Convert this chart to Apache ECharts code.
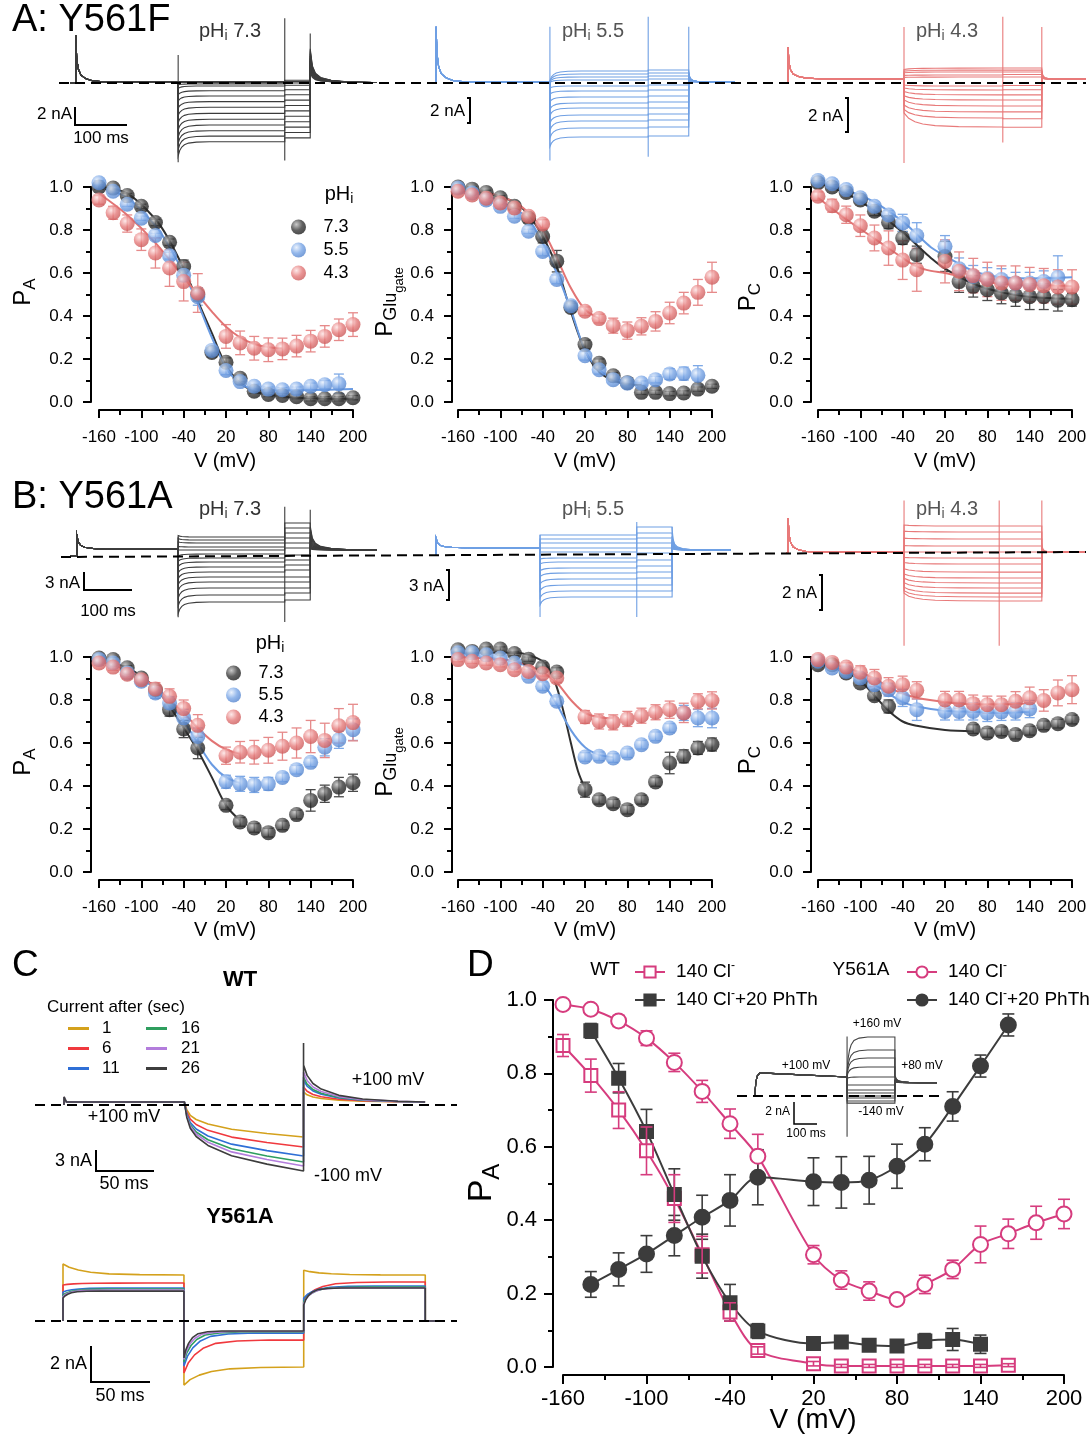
<!DOCTYPE html>
<html>
<head>
<meta charset="utf-8">
<script src="https://cdn.jsdelivr.net/npm/echarts@6/dist/echarts.min.js"></script>
<style>
html,body{margin:0;padding:0;background:#fff;}
#chart{width:1092px;height:1439px;}
</style>
</head>
<body>
<div id="chart"></div>
<script>
const FONT = '"Liberation Sans", Arial, Helvetica, sans-serif';

// ================= DATA =================
const V = [-160,-140,-120,-100,-80,-60,-40,-20,0,20,40,60,80,100,120,140,160,180,200];
const xTickLabels = ['-160','-100','-40','20','80','140','200'];
const yTickLabels = ['0.0','0.2','0.4','0.6','0.8','1.0'];
const phNames = ['7.3','5.5','4.3'];

// A1  P_A  Y561F
const a1K = [1.0,0.995,0.96,0.91,0.835,0.743,0.63,0.50,0.23,0.185,0.11,0.05,0.035,0.03,0.025,0.015,0.015,0.015,0.02];
const a1KErr = [0.01,0.01,0.01,0.01,0.015,0.015,0.03,0.03,0.02,0.02,0.015,0.01,0.01,0.01,0.01,0.01,0.01,0.01,0.01];
const a1B = [1.02,0.98,0.92,0.855,0.775,0.68,0.59,0.49,0.24,0.147,0.095,0.073,0.06,0.057,0.06,0.073,0.08,0.085];
const a1BErr = [0.01,0.01,0.01,0.01,0.01,0.015,0.03,0.04,0.01,0.02,0.015,0.01,0.01,0.01,0.01,0.015,0.02,0.045];
const a1R = [0.94,0.88,0.83,0.755,0.693,0.623,0.56,0.507,null,0.305,0.275,0.25,0.243,0.247,0.26,0.283,0.305,0.336,0.36];
const a1RErr = [0.02,0.03,0.04,0.05,0.07,0.085,0.09,0.09,0,0.055,0.055,0.055,0.055,0.05,0.05,0.05,0.05,0.05,0.055];
const a1FitV = [-160,-120,-80,-60,-40,-20,0,20,40,60,80,120,200];
const a1FitK = [1.0,0.97,0.85,0.75,0.62,0.47,0.32,0.17,0.09,0.05,0.035,0.02,0.015];
const a1FitB = [1.0,0.95,0.82,0.72,0.60,0.46,0.30,0.16,0.085,0.06,0.055,0.055,0.06];
const a1FitRV = [-160,-120,-80,-40,-20,0,20,40,60,80,100];
const a1FitR = [0.97,0.87,0.74,0.58,0.50,0.42,0.35,0.30,0.27,0.255,0.25];

// A2  P_Glugate  Y561F
const a2K = [1.0,0.99,0.975,0.95,0.91,0.855,0.77,0.655,0.44,0.267,0.18,0.122,0.09,0.045,0.045,0.039,0.042,0.06,0.073];
const a2KErr = [0.01,0.01,0.01,0.01,0.015,0.02,0.03,0.05,0.02,0.02,0.02,0.015,0.01,0.01,0.01,0.01,0.01,0.01,0.01];
const a2B = [0.995,0.972,0.94,0.91,0.864,0.794,0.70,0.57,0.448,0.215,0.15,0.104,0.088,0.088,0.104,0.13,0.132,0.124];
const a2BErr = [0.01,0.01,0.01,0.01,0.01,0.01,0.02,0.02,0.02,0.02,0.02,0.01,0.01,0.01,0.015,0.025,0.03,0.045];
const a2R = [0.98,0.963,0.948,0.926,0.902,0.864,0.828,null,null,0.422,0.388,0.355,0.332,0.352,0.375,0.414,0.46,0.51,0.58];
const a2RErr = [0.01,0.01,0.01,0.01,0.01,0.01,0.02,0,0,0.02,0.02,0.035,0.04,0.04,0.045,0.05,0.05,0.06,0.07];
const a2FitV = [-160,-120,-80,-60,-40,-20,0,20,40,60,80,100];
const a2FitK = [0.98,0.97,0.93,0.87,0.77,0.63,0.42,0.24,0.14,0.10,0.085,0.08];
const a2FitB = [0.975,0.96,0.90,0.85,0.74,0.60,0.43,0.24,0.15,0.11,0.095,0.09];
const a2FitRV = [-160,-120,-80,-60,-40,-20,0,20,40];
const a2FitR = [0.985,0.975,0.93,0.88,0.80,0.67,0.53,0.43,0.39];

// A3  P_C  Y561F
const a3K = [1.02,1.0,0.975,0.94,0.887,0.836,0.763,0.685,null,0.677,0.56,0.538,0.522,0.507,0.495,0.49,0.49,0.473,0.476];
const a3KErr = [0.01,0.01,0.01,0.01,0.02,0.03,0.03,0.04,0,0.07,0.05,0.05,0.05,0.05,0.05,0.06,0.06,0.05,0.03];
const a3B = [1.03,1.015,0.988,0.95,0.91,0.87,0.833,0.774,null,0.724,0.62,0.585,0.575,0.57,0.553,0.553,0.56,0.58];
const a3BErr = [0.01,0.01,0.01,0.01,0.01,0.02,0.04,0.06,0,0.05,0.05,0.05,0.05,0.05,0.05,0.05,0.05,0.1];
const a3R = [0.957,0.913,0.871,0.82,0.763,0.716,0.66,0.615,null,0.654,0.608,0.588,0.57,0.553,0.553,0.546,0.541,0.535,0.535];
const a3RErr = [0.02,0.03,0.04,0.05,0.06,0.08,0.09,0.1,0,0.1,0.09,0.08,0.08,0.08,0.08,0.08,0.08,0.08,0.08];
const a3FitV = [-160,-120,-80,-40,-20,0,20,60,100,140,200];
const a3FitK = [1.02,0.97,0.89,0.79,0.73,0.67,0.62,0.55,0.51,0.49,0.48];
const a3FitB = [1.02,0.985,0.93,0.84,0.78,0.72,0.68,0.61,0.58,0.575,0.58];
const a3FitR = [0.95,0.85,0.76,0.67,0.63,0.61,0.60,0.57,0.55,0.545,0.54];

// B1  P_A  Y561A
const b1K = [0.995,0.988,0.95,0.902,0.848,0.755,0.665,0.577,null,0.31,0.233,0.205,0.183,0.217,0.267,0.333,0.364,0.395,0.415];
const b1KErr = [0.01,0.01,0.01,0.01,0.02,0.03,0.04,0.05,0,0.02,0.02,0.02,0.02,0.02,0.02,0.05,0.04,0.045,0.04];
const b1B = [0.988,0.972,0.926,0.887,0.833,0.786,0.717,0.63,null,0.42,0.41,0.405,0.41,0.44,0.476,0.51,0.58,0.615,0.662];
const b1BErr = [0.01,0.01,0.015,0.02,0.025,0.03,0.04,0.04,0,0.03,0.035,0.035,0.03,0.02,0.02,0.02,0.04,0.04,0.05];
const b1R = [0.972,0.953,0.92,0.894,0.851,0.817,0.76,0.682,null,0.541,0.557,0.557,0.566,0.585,0.6,0.63,0.612,0.68,0.695];
const b1RErr = [0.01,0.015,0.02,0.025,0.03,0.035,0.04,0.05,0,0.04,0.05,0.055,0.06,0.065,0.07,0.075,0.08,0.08,0.085];
const b1FitV = [-160,-120,-100,-80,-60,-40,-20,0,20,40];
const b1FitK = [0.99,0.95,0.91,0.855,0.77,0.67,0.565,0.44,0.31,0.24];
const b1FitB = [0.99,0.94,0.90,0.85,0.78,0.70,0.60,0.50,0.44,0.415];
const b1FitR = [0.98,0.94,0.905,0.86,0.80,0.74,0.67,0.61,0.57,0.55];

// B2  P_Glugate  Y561A
const b2K = [1.034,1.026,1.037,1.037,1.016,0.99,0.953,0.93,null,0.383,0.336,0.318,0.29,0.336,0.419,0.507,0.538,0.577,0.593];
const b2KErr = [0.01,0.01,0.01,0.01,0.01,0.01,0.02,0.02,0,0.035,0.02,0.02,0.02,0.02,0.02,0.05,0.03,0.03,0.03];
const b2B = [1.02,1.02,1.01,0.995,0.972,0.91,0.864,0.794,null,0.535,0.538,0.53,0.553,0.592,0.631,0.67,0.74,0.716,0.716];
const b2BErr = [0.01,0.01,0.01,0.01,0.01,0.015,0.02,0.02,0,0.02,0.02,0.02,0.02,0.02,0.02,0.02,0.035,0.04,0.045];
const b2R = [0.988,0.98,0.972,0.964,0.941,0.933,0.922,0.902,null,0.721,0.70,0.696,0.712,0.727,0.743,0.755,0.74,0.794,0.798];
const b2RErr = [0.01,0.01,0.01,0.01,0.01,0.01,0.01,0.02,0,0.03,0.035,0.035,0.035,0.035,0.035,0.04,0.045,0.035,0.04];
const b2FitKV = [-160,-100,-80,-60,-40,-30,-20,-10,0,10,20];
const b2FitK = [1.02,1.02,1.02,1.01,0.98,0.94,0.86,0.74,0.60,0.47,0.39];
const b2FitV = [-160,-100,-80,-60,-40,-20,0,20,40,60];
const b2FitB = [1.0,0.99,0.98,0.95,0.88,0.78,0.66,0.58,0.545,0.535];
const b2FitR = [1.0,0.99,0.98,0.96,0.93,0.88,0.80,0.74,0.72,0.715];

// B3  P_C  Y561A
const b3K = [0.964,0.964,0.926,0.879,0.82,0.77,null,null,null,null,null,0.665,0.647,0.654,0.639,0.657,0.682,0.69,0.709];
const b3KErr = [0.01,0.01,0.01,0.01,0.02,0.03,0,0,0,0,0,0.02,0.02,0.02,0.02,0.02,0.02,0.02,0.02];
const b3B = [0.98,0.949,0.933,0.902,0.871,0.848,0.81,0.755,null,0.747,0.747,0.747,0.74,0.745,0.747,0.758];
const b3BErr = [0.01,0.01,0.01,0.02,0.03,0.03,0.04,0.05,0,0.04,0.04,0.04,0.04,0.04,0.04,0.04];
const b3R = [0.988,0.975,0.953,0.929,0.902,0.864,0.871,0.845,null,0.8,0.8,0.783,0.778,0.778,0.794,0.81,0.798,0.833,0.848];
const b3RErr = [0.01,0.01,0.02,0.03,0.04,0.04,0.04,0.04,0,0.04,0.04,0.04,0.04,0.04,0.045,0.05,0.05,0.06,0.065];
const b3FitKV = [-160,-120,-100,-80,-60,-40,-20,20,60];
const b3FitK = [0.97,0.93,0.89,0.82,0.75,0.70,0.68,0.66,0.655];
const b3FitV = [-160,-120,-80,-60,-40,-20,20,60,100,140];
const b3FitB = [0.97,0.93,0.87,0.83,0.79,0.77,0.75,0.745,0.74,0.745];
const b3FitR = [0.975,0.95,0.90,0.86,0.83,0.81,0.79,0.78,0.78,0.785];

// D  P_A  WT / Y561A, 140 Cl- and 140 Cl- + 20 PhTh
const dWtCl = [0.876,0.794,0.700,0.589,0.459,0.306,0.150,0.045,null,0.009,0.003,0.003,0.003,0.003,0.003,0.003,0.005];
const dWtClErr = [0.03,0.045,0.05,0.065,0.065,0.05,0.025,0.01,0,0.006,0.004,0.004,0.004,0.004,0.004,0.004,0.004];
const dWtPh = [null,0.916,0.787,0.642,0.470,0.302,0.175,0.098,null,0.064,0.068,0.059,0.057,0.071,0.075,0.062];
const dWtPhErr = [0,0.02,0.04,0.06,0.07,0.06,0.05,0.02,0,0.01,0.01,0.01,0.01,0.02,0.03,0.025];
const dYCl = [0.988,0.975,0.943,0.896,0.830,0.751,0.663,0.574,null,0.306,0.237,0.207,0.184,0.225,0.266,0.334,0.363,0.393,0.417];
const dYClErr = [0.005,0.01,0.015,0.02,0.025,0.03,0.04,0.06,0,0.025,0.025,0.025,0.01,0.025,0.025,0.05,0.04,0.045,0.04];
const dYPh = [null,0.225,0.266,0.308,0.358,0.408,0.454,0.517,null,0.505,0.503,0.509,0.547,0.607,0.710,0.820,0.932];
const dYPhErr = [0,0.035,0.045,0.05,0.055,0.06,0.07,0.075,0,0.065,0.07,0.065,0.06,0.045,0.04,0.03,0.03];

// ---- current trace families (time in ms, current in nA) ----
const relaxMs = [0, 3, 7, 12, 20, 35, 60];
const relaxFrac = [1, 0.62, 0.38, 0.22, 0.1, 0.03, 0];
const spikeMs = [0, 2, 5, 10, 20, 35, 60];
const spikeFrac = [1, 0.5, 0.28, 0.15, 0.07, 0.02, 0];
// times: start, pre-spike, test on, test off, tail off, end ; levels: pre, pre-spike peak, post level
const fA73Times = [0, 11, 208, 413, 462, 590];
const fA73Levels = [0.1, 5.3, 0.05];
const fA73Test = [0.15,0.05,-0.1,-0.33,-0.86,-1.44,-2.07,-2.7,-3.37,-4.03,-4.67,-5.3,-5.9,-6.52];
const fA73Onset = [0.15,0.05,-0.2,-0.6,-1.3,-2.0,-2.8,-3.6,-4.4,-5.2,-6.0,-6.7,-7.4,-8.1];
const fA73Tail = [0.3,0.15,0,-0.25,-0.75,-1.3,-1.9,-2.5,-3.1,-3.7,-4.3,-4.9,-5.5,-6.1];
const fA73Post = [1.2,1.4,1.6,1.8,2.0,2.2,2.4,2.6,2.8,3.0,3.2,3.4,3.6,3.8];
const fA73Spikes = [-8.8,3.1,-8.6,7.2,5.5];

const fA55Times = [0, 2, 221, 410, 488, 577];
const fA55Levels = [0.08, 4.5, 0.08];
const fA55Test = [0.96,0.72,0.48,0.24,-0.24,-0.64,-1.12,-1.6,-2.0,-2.56,-3.04,-3.6,-4.32];
const fA55Onset = [0.2,0.15,0.1,0.05,-0.4,-0.9,-1.5,-2.1,-2.6,-3.2,-3.8,-4.4,-5.1];
const fA55Tail = [1.04,0.8,0.56,0.32,-0.16,-0.56,-1.04,-1.52,-2.0,-2.48,-2.96,-3.52,-4.24];
const fA55Post = [1.0,0.9,0.8,0.7,0.6,0.5,0.5,0.4,0.4,0.3,0.3,0.3,0.3];
const fA55Spikes = [-6.2,4.5,-5.9,5.3,4.5];

const fA43Times = [0, 2, 225, 415, 490, 575];
const fA43Levels = [0.25, 2.1, 0.22];
const fA43Test = [0.88,0.76,0.65,0.47,0.35,-0.18,-0.41,-0.7,-1.0,-1.35,-1.7,-2.06,-2.59];
const fA43Onset = [0.8,0.7,0.6,0.45,0.33,-0.12,-0.3,-0.5,-0.75,-1.0,-1.3,-1.55,-1.76];
const fA43Tail = [0.88,0.76,0.65,0.5,0.35,-0.15,-0.4,-0.7,-1.0,-1.35,-1.7,-2.1,-2.6];
const fA43Post = [0.8,0.8,0.7,0.7,0.6,0.6,0.5,0.5,0.5,0.4,0.4,0.4,0.4];
const fA43Spikes = [-4.7,3.3,-3.5,3.9,3.3];

const fB73Times = [0, 13, 208, 413, 462, 590];
const fB73Levels = [1.1, 3.5, 1.0];
const fB73Test = [3.17,2.67,2.17,1.5,1.0,0.33,-0.33,-1.0,-1.83,-2.67,-3.5,-4.33,-5.33,-6.5,-7.67];
const fB73Onset = [3.4,2.9,2.35,1.6,1.0,0.0,-0.9,-1.8,-2.8,-3.8,-4.8,-5.8,-7.0,-8.3,-9.6];
const fB73Tail = [5.5,4.67,3.83,3.0,2.17,1.33,0.17,-0.67,-1.5,-2.33,-3.5,-4.33,-5.33,-6.17,-7.33];
const fB73Post = [5.0,4.6,4.2,3.8,3.4,3.0,2.7,2.4,2.1,1.9,1.7,1.5,1.4,1.3,1.2];
const fB73Spikes = [-10.2,3.2,-11,8.2,7.7];

const fB55Times = [0, 2, 202, 388, 456, 569];
const fB55Levels = [0.7, 1.7, 0.5];
const fB55Test = [2.0,1.6,1.2,0.7,0.3,-0.3,-0.7,-1.3,-1.8,-2.4,-3.0,-3.6,-4.2];
const fB55Onset = [2.0,1.6,1.2,0.7,0.3,-0.4,-0.9,-1.6,-2.2,-2.9,-3.6,-4.3,-5.0];
const fB55Tail = [2.8,2.2,1.7,1.2,0.7,0.2,-0.5,-1.1,-1.7,-2.3,-3.0,-3.6,-4.2];
const fB55Post = [2.6,2.2,1.9,1.6,1.4,1.2,1.1,1.0,0.9,0.85,0.8,0.75,0.7];
const fB55Spikes = [-6.2,2.0,-6.2,3.3,2.8];

const fB43Times = [0, 4, 227, 410, 492, 577];
const fB43Levels = [0.05, 2.0, 0.05];
const fB43Test = [1.54,1.2,0.8,0.4,0.06,-0.29,-0.63,-1.09,-1.43,-1.71,-2.0,-2.29,-2.51,-2.74];
const fB43Onset = [1.6,1.25,0.85,0.42,0.06,-0.25,-0.55,-0.9,-1.2,-1.45,-1.7,-1.95,-2.15,-2.3];
const fB43Tail = [1.54,1.2,0.8,0.4,0.06,-0.29,-0.63,-1.09,-1.43,-1.71,-2.0,-2.29,-2.51,-2.74];
const fB43Post = [0.6,0.5,0.4,0.3,0.2,0.2,0.1,0.1,0.1,0.1,0.1,0.1,0.1,0.1];
const fB43Spikes = [-5.3,3.0,-5.3,3.0,3.0];

// ---- panel C ----
const cNames = ['1','6','11','16','21','26'];
const cNegMs = [0, 2, 5, 10, 20, 40, 70, 101];
const cNegFrac = [0, 0.22, 0.38, 0.5, 0.63, 0.78, 0.9, 1.0];
const cPosMs = [0, 3, 8, 15, 30, 50, 80, 103];
const cPosFrac = [1, 0.72, 0.5, 0.35, 0.18, 0.08, 0.02, 0];
const cRelMs = [0, 4, 10, 18, 30, 50, 80];
const cRelFrac = [1, 0.7, 0.45, 0.25, 0.1, 0.03, 0];
const cWtTimes = [0, 102, 203, 306];
const cWtLevels = [0.43, 1.14, 8.86];     // holding level, start spike, jump spike
const cWtNeg = [-4.57,-6.0,-7.29,-8.14,-8.71,-9.43];
const cWtPos = [1.86,2.57,3.57,4.0,4.71,5.71];
const cYTimes = [0, 102.5, 204, 307, 318];
const cYRelScale = [1.3, 0.9, 0.75, 0.6, 0.5, 0.4];
const cYp1a = [3.26,2.06,1.66,1.49,1.4,1.31];
const cYp1b = [2.63,2.17,1.89,1.83,1.77,1.71];
const cYp2a = [-3.66,-2.97,-2.57,-2.34,-2.2,-2.11];
const cYp2b = [-2.63,-1.09,-0.69,-0.63,-0.6,-0.57];
const cYp3a = [2.9,1.2,1.31,1.1,1.0,0.91];
const cYp3b = [2.63,2.23,2.0,1.94,1.9,1.89];

// ---- D inset ----
const dInsPreT = [0, 8, 12, 18, 30, 409];
const dInsPreI = [0, 0, 1.2, 1.8, 2.1, 1.73];
const dInsTimes = [409, 617, 800];
const dInsTest = [5.36,4.18,3.45,2.64,1.73,1.0,0.55,0.27,0.0,-0.18,-0.45,-0.65];
const dInsOnset = [2.2,2.0,1.9,1.8,1.6,1.0,0.55,0.27,0.0,-0.18,-0.45,-0.65];
const dInsTail = [1.9,1.8,1.75,1.7,1.6,1.5,1.45,1.4,1.4,1.35,1.35,1.3];
const dInsLevels = [1.2, -3.7, 5.4];

// ================= BUILD =================
const grids = [], xAxes = [], yAxes = [], series = [], legends = [], graphics = [];

function axisCommon(L) {
  return {
    axisLine:{show:true, onZero:false, lineStyle:{color:'#000', width:L.lw}},
    axisTick:{show:true, inside:false, length:L.tick, lineStyle:{color:'#000', width:L.lw}},
    minorTick:{show:true, splitNumber:2, length:L.minor, lineStyle:{color:'#000', width:L.lw}},
    splitLine:{show:false}, minorSplitLine:{show:false}
  };
}
function addPlot(L) {
  const gi = grids.length;
  grids.push({left:L.left, top:L.top, width:L.w, height:L.h});
  const xd = xAxes.length;
  xAxes.push({gridIndex:gi, type:'value', min:-160, max:200, show:false});
  xAxes.push(Object.assign({gridIndex:gi, type:'value', position:'bottom', min:0, max:360, interval:60, offset:L.xOff,
    axisLabel:{formatter:(v)=>xTickLabels[Math.round(v/60)], fontSize:L.fs, color:'#000', fontFamily:FONT, margin:L.xMargin}}, axisCommon(L)));
  const yi = yAxes.length;
  yAxes.push(Object.assign({gridIndex:gi, type:'value', position:'left', min:0, max:1, interval:0.2, offset:L.yOff,
    axisLabel:{formatter:(v)=>yTickLabels[Math.round(v/0.2)], fontSize:L.fs, color:'#000', fontFamily:FONT, margin:L.yMargin}}, axisCommon(L)));
  return {x:xd, y:yi};
}
function addTraceGrid(g) {
  const gi = grids.length;
  grids.push({left:g.x0, top:g.top, width:g.w, height:g.bottom - g.top});
  xAxes.push({gridIndex:gi, type:'value', min:0, max:g.w / g.pxMs, show:false});
  yAxes.push({gridIndex:gi, type:'value', min:-(g.bottom - g.zeroY) / g.pxNA, max:(g.zeroY - g.top) / g.pxNA, show:false});
  return {x:xAxes.length - 1, y:yAxes.length - 1};
}
function radial(c) {
  return {type:'radial', x:0.36, y:0.33, r:0.72, colorStops:[{offset:0, color:c[0]}, {offset:0.55, color:c[1]}, {offset:1, color:c[2]}]};
}
const COL = {
  k:{line:'#303030', err:'#4a4a4a', grad:['#bdbdbd','#3a3a3a','#1c1c1c']},
  b:{line:'#6a9be2', err:'#7ea9e6', grad:['#e6effc','#78a5e6','#5282cb']},
  r:{line:'#e27474', err:'#e68a8a', grad:['#fde3e3','#e57b7b','#c95858']}
};
function errSeries(ax, xs, vals, errs, color, z, cap, lw) {
  const data = [];
  xs.forEach((v, i) => { if (vals[i] != null && errs[i]) data.push([v, vals[i], errs[i]]); });
  return {type:'custom', xAxisIndex:ax.x, yAxisIndex:ax.y, z:z, silent:true, clip:false, encode:{x:0, y:1}, data:data,
    renderItem:(p, api) => {
      const x = api.value(0), y = api.value(1), e = api.value(2);
      const a = api.coord([x, y + e]), b = api.coord([x, y - e]);
      const st = {stroke:color, lineWidth:lw};
      return {type:'group', children:[
        {type:'line', shape:{x1:a[0], y1:a[1], x2:b[0], y2:b[1]}, style:st},
        {type:'line', shape:{x1:a[0]-cap, y1:a[1], x2:a[0]+cap, y2:a[1]}, style:st},
        {type:'line', shape:{x1:b[0]-cap, y1:b[1], x2:b[0]+cap, y2:b[1]}, style:st}
      ]};
    }};
}
function pairs(xs, ys) {
  const out = [];
  xs.forEach((v, i) => { if (ys[i] != null) out.push([v, ys[i]]); });
  return out;
}

// ---- A/B plots ----
const plotCommon = {w:254, h:215, xOff:8, fs:17, tick:8, minor:5, lw:2, xMargin:19, yMargin:18};
const plotLayouts = [
  {left:99, top:187, yOff:8}, {left:458, top:187, yOff:6}, {left:818, top:187, yOff:7},
  {left:99, top:657, yOff:8}, {left:458, top:657, yOff:6}, {left:818, top:657, yOff:7}
];
const plotData = [
  [[a1K,a1KErr,a1FitV,a1FitK],[a1B,a1BErr,a1FitV,a1FitB],[a1R,a1RErr,a1FitRV,a1FitR]],
  [[a2K,a2KErr,a2FitV,a2FitK],[a2B,a2BErr,a2FitV,a2FitB],[a2R,a2RErr,a2FitRV,a2FitR]],
  [[a3K,a3KErr,a3FitV,a3FitK],[a3B,a3BErr,a3FitV,a3FitB],[a3R,a3RErr,a3FitV,a3FitR]],
  [[b1K,b1KErr,b1FitV,b1FitK],[b1B,b1BErr,b1FitV,b1FitB],[b1R,b1RErr,b1FitV,b1FitR]],
  [[b2K,b2KErr,b2FitKV,b2FitK],[b2B,b2BErr,b2FitV,b2FitB],[b2R,b2RErr,b2FitV,b2FitR]],
  [[b3K,b3KErr,b3FitKV,b3FitK],[b3B,b3BErr,b3FitV,b3FitB],[b3R,b3RErr,b3FitV,b3FitR]]
];
const colKeys = ['k','b','r'];
plotLayouts.forEach((L, pi) => {
  const ax = addPlot(Object.assign({}, plotCommon, L));
  plotData[pi].forEach((d, si) => {
    const c = COL[colKeys[si]];
    series.push(errSeries(ax, V, d[0], d[1], c.err, 2, 5, 1.3));
    series.push({type:'line', xAxisIndex:ax.x, yAxisIndex:ax.y, data:pairs(d[2], d[3]), smooth:0.35, symbol:'none',
      lineStyle:{color:c.line, width:2}, z:3, silent:true, clip:false});
  });
  plotData[pi].forEach((d, si) => {
    const c = COL[colKeys[si]];
    series.push({type:'scatter', name:phNames[si], xAxisIndex:ax.x, yAxisIndex:ax.y, data:pairs(V, d[0]), symbolSize:15,
      itemStyle:{color:radial(c.grad)}, z:4 + si * 0.1, silent:true, clip:false});
  });
});

// ---- D plot ----
const PINK = '#d63c7e', DARK = '#3c3c3c';
const axD = addPlot({left:563, top:1000, w:501, h:367, xOff:8, yOff:10, fs:22, tick:9, minor:5, lw:2, xMargin:13, yMargin:16});
const dSets = [
  {name:'wtcl', vals:dWtCl, errs:dWtClErr, color:PINK, symbol:'rect', open:true, errZ:6},
  {name:'wtph', vals:dWtPh, errs:dWtPhErr, color:DARK, symbol:'rect', open:false, errZ:2},
  {name:'ycl', vals:dYCl, errs:dYClErr, color:PINK, symbol:'circle', open:true, errZ:2},
  {name:'yph', vals:dYPh, errs:dYPhErr, color:DARK, symbol:'circle', open:false, errZ:2}
];
dSets.forEach(s => {
  series.push(errSeries(axD, V, s.vals, s.errs, s.color, s.errZ, 6, 1.6));
  series.push({type:'line', name:s.name, xAxisIndex:axD.x, yAxisIndex:axD.y, data:pairs(V, s.vals), smooth:0.3,
    symbol:s.symbol, symbolSize:s.symbol === 'rect' ? 13 : 15, showSymbol:true,
    lineStyle:{color:s.color, width:2}, itemStyle:{color:s.open ? '#fff' : s.color, borderColor:s.color, borderWidth:2},
    z:3, silent:true, clip:false});
});

// ---- trace families ----
function buildFamily(f) {
  const [t0, tS, tOn, tOff, tTail, tEnd] = f.times;
  const [pre, preSpike, post0] = f.levels;
  const lines = [];
  for (let i = 0; i < f.test.length; i++) {
    const c = [[t0, 0], [tS, 0]];
    spikeMs.forEach((d, k) => c.push([tS + d * f.preScale, pre + (preSpike - pre) * spikeFrac[k]]));
    c.push([tOn, pre]);
    relaxMs.forEach((d, k) => { const t = tOn + d * f.relax; if (t < tOff) c.push([t, f.test[i] + (f.onset[i] - f.test[i]) * relaxFrac[k]]); });
    c.push([tOff, f.test[i]]);
    c.push([tOff, f.tail[i]]);
    c.push([tTail, f.tail[i]]);
    spikeMs.forEach((d, k) => c.push([tTail + d * f.postScale, post0 + (f.post[i] - post0) * spikeFrac[k]]));
    c.push([tEnd, post0]);
    lines.push({coords:c});
  }
  const sp = f.spikes;
  lines.push({coords:[[tOn, sp[0]], [tOn, sp[1]]]});
  lines.push({coords:[[tOff, sp[2]], [tOff, sp[3]]]});
  lines.push({coords:[[tTail, post0], [tTail, sp[4]]]});
  return lines;
}
const FAMS = [
  {g:{x0:70, w:320, top:8, bottom:172, zeroY:83, pxNA:9, pxMs:0.52}, color:'#3c3c3c', relax:1, preScale:1, postScale:2,
   times:fA73Times, levels:fA73Levels, test:fA73Test, onset:fA73Onset, tail:fA73Tail, post:fA73Post, spikes:fA73Spikes},
  {g:{x0:435, w:310, top:8, bottom:172, zeroY:83, pxNA:12.5, pxMs:0.52}, color:'#6f9fe3', relax:1, preScale:1, postScale:0.8,
   times:fA55Times, levels:fA55Levels, test:fA55Test, onset:fA55Onset, tail:fA55Tail, post:fA55Post, spikes:fA55Spikes},
  {g:{x0:787, w:305, top:8, bottom:172, zeroY:83, pxNA:17, pxMs:0.52}, color:'#e87a7a', relax:3, preScale:1, postScale:0.6,
   times:fA43Times, levels:fA43Levels, test:fA43Test, onset:fA43Onset, tail:fA43Tail, post:fA43Post, spikes:fA43Spikes},
  {g:{x0:70, w:320, top:488, bottom:652, zeroY:556, pxNA:6, pxMs:0.52}, color:'#3c3c3c', relax:1, preScale:1.5, postScale:2,
   times:fB73Times, levels:fB73Levels, test:fB73Test, onset:fB73Onset, tail:fB73Tail, post:fB73Post, spikes:fB73Spikes},
  {g:{x0:435, w:310, top:488, bottom:652, zeroY:555, pxNA:10, pxMs:0.52}, color:'#6f9fe3', relax:1, preScale:1.5, postScale:1,
   times:fB55Times, levels:fB55Levels, test:fB55Test, onset:fB55Onset, tail:fB55Tail, post:fB55Post, spikes:fB55Spikes},
  {g:{x0:786, w:305, top:488, bottom:652, zeroY:553, pxNA:17.5, pxMs:0.52}, color:'#e87a7a', relax:3, preScale:1, postScale:0.5,
   times:fB43Times, levels:fB43Levels, test:fB43Test, onset:fB43Onset, tail:fB43Tail, post:fB43Post, spikes:fB43Spikes}
];
FAMS.forEach(f => {
  const ax = addTraceGrid(f.g);
  series.push({type:'lines', coordinateSystem:'cartesian2d', xAxisIndex:ax.x, yAxisIndex:ax.y, polyline:true,
    data:buildFamily(f), lineStyle:{color:f.color, width:1.1, opacity:1}, silent:true, z:2});
});

// ---- panel C traces ----
const cColors = ['#d4a11c','#f0393e','#2f6fd6','#2e9e5e','#b37ddc','#3d3d3d'];
const axCW = addTraceGrid({x0:64, w:380, top:1035, bottom:1185, zeroY:1105, pxNA:7, pxMs:1.18});
const axCY = addTraceGrid({x0:63, w:380, top:1250, bottom:1400, zeroY:1321, pxNA:17.5, pxMs:1.18});
cNames.forEach((nm, i) => {
  const [t0, t1, t2, t3] = cWtTimes;
  const [pre, sp0, jump] = cWtLevels;
  const c = [[t0, 0], [t0, sp0], [t0 + 2, pre], [t1, pre]];
  cNegMs.forEach((d, k) => c.push([t1 + d, pre + (cWtNeg[i] - pre) * cNegFrac[k]]));
  if (i === cNames.length - 1) c.push([t2, jump]);
  cPosMs.forEach((d, k) => c.push([t2 + d, pre + (cWtPos[i] - pre) * cPosFrac[k]]));
  c.push([t3, pre]);
  series.push({type:'line', name:nm, xAxisIndex:axCW.x, yAxisIndex:axCW.y, data:c, symbol:'none', showSymbol:false,
    lineStyle:{color:cColors[i], width:1.6}, itemStyle:{color:cColors[i]}, z:2 + i * 0.1, silent:true, clip:false});
});
cNames.forEach((nm, i) => {
  const [t0, t1, t2, t3, t4] = cYTimes;
  const sc = cYRelScale[i];
  const phase = (ts, te, a, b, c) => {
    cRelMs.forEach((d, k) => { const t = ts + d * sc; if (t < te) c.push([t, b + (a - b) * cRelFrac[k]]); });
    c.push([te, b]);
  };
  const c = [[t0, 0]];
  phase(t0, t1, cYp1a[i], cYp1b[i], c);
  phase(t1, t2, cYp2a[i], cYp2b[i], c);
  phase(t2, t3, cYp3a[i], cYp3b[i], c);
  c.push([t3, 0]);
  c.push([t4, 0]);
  series.push({type:'line', name:nm, xAxisIndex:axCY.x, yAxisIndex:axCY.y, data:c, symbol:'none', showSymbol:false,
    lineStyle:{color:cColors[i], width:1.6}, itemStyle:{color:cColors[i]}, z:2 + i * 0.1, silent:true, clip:false});
});

// ---- D inset ----
const axIns = addTraceGrid({x0:753, w:200, top:1025, bottom:1145, zeroY:1096, pxNA:11, pxMs:0.23});
(function () {
  const [tOn, tOff, tEnd] = dInsTimes;
  const [tailEnd, spMin, spMax] = dInsLevels;
  const lines = [];
  dInsTest.forEach((lv, i) => {
    const c = pairs(dInsPreT, dInsPreI);
    c.push([tOn, dInsOnset[i]]);
    relaxMs.forEach((d, k) => c.push([tOn + d * 1.5, lv + (dInsOnset[i] - lv) * relaxFrac[k]]));
    c.push([tOff, lv]);
    c.push([tOff, dInsTail[i]]);
    spikeMs.forEach((d, k) => c.push([tOff + d * 3, tailEnd + (dInsTail[i] - tailEnd) * spikeFrac[k]]));
    c.push([tEnd, tailEnd]);
    lines.push({coords:c});
  });
  lines.push({coords:[[tOn, spMin], [tOn, spMax]]});
  series.push({type:'lines', coordinateSystem:'cartesian2d', xAxisIndex:axIns.x, yAxisIndex:axIns.y, polyline:true,
    data:lines, lineStyle:{color:'#444', width:1.1, opacity:1}, silent:true, z:2});
})();

// ================= LEGENDS =================
const legBase = {selectedMode:false, orient:'vertical', textStyle:{fontFamily:FONT, color:'#000'}};
legends.push(Object.assign({}, legBase, {data:phNames, left:286, top:213, itemWidth:40, itemHeight:15, itemGap:5, icon:'circle',
  textStyle:{fontFamily:FONT, color:'#000', fontSize:18, lineHeight:18}}));
legends.push(Object.assign({}, legBase, {data:phNames, left:221, top:659, itemWidth:40, itemHeight:15, itemGap:4, icon:'circle',
  textStyle:{fontFamily:FONT, color:'#000', fontSize:18, lineHeight:18}}));
legends.push(Object.assign({}, legBase, {data:['1','6','11'], left:63, top:1015, itemWidth:21, itemHeight:3, itemGap:3, icon:'rect',
  textStyle:{fontFamily:FONT, color:'#000', fontSize:17, lineHeight:17, padding:[0,0,0,8]}}));
legends.push(Object.assign({}, legBase, {data:['16','21','26'], left:141, top:1015, itemWidth:21, itemHeight:3, itemGap:3, icon:'rect',
  textStyle:{fontFamily:FONT, color:'#000', fontSize:17, lineHeight:17, padding:[0,0,0,9]}}));
const supRich = {a:{fontSize:19, fontFamily:FONT, color:'#000'}, sup:{fontSize:12, fontFamily:FONT, color:'#000', padding:[0,0,12,0]}};
const dLeg = [
  {name:'wtcl', left:629, top:955, txt:'{a|140 Cl}{sup|-}'},
  {name:'wtph', left:629, top:983, txt:'{a|140 Cl}{sup|-}{a|+20 PhTh}'},
  {name:'ycl', left:901, top:955, txt:'{a|140 Cl}{sup|-}'},
  {name:'yph', left:901, top:983, txt:'{a|140 Cl}{sup|-}{a|+20 PhTh}'}
];
dLeg.forEach(l => legends.push(Object.assign({}, legBase, {data:[l.name], left:l.left, top:l.top, itemWidth:30, itemHeight:14,
  formatter:() => l.txt, textStyle:{fontFamily:FONT, color:'#000', fontSize:19, padding:[0,0,0,6], rich:supRich}})));

// ================= GRAPHIC ANNOTATIONS =================
function T(x, y, text, fs, o) {
  return {type:'text', x:x, y:y, z:100, silent:true,
    style:Object.assign({text:text, fontSize:fs, fontFamily:FONT, fill:'#000', align:'center', verticalAlign:'middle'}, o || {})};
}
function R(x, y, text, rich) {
  return {type:'text', x:x, y:y, rotation:Math.PI / 2, z:100, silent:true,
    style:{text:text, rich:rich, fontFamily:FONT, fill:'#000', align:'center', verticalAlign:'middle'}};
}
function P(points, o) {
  return {type:'polyline', z:100, silent:true, shape:{points:points}, style:Object.assign({stroke:'#000', lineWidth:2, fill:null}, o || {})};
}
const dash = {lineDash:[10,6], lineWidth:2};
graphics.push(P([[59,83],[1086,83]], dash));
graphics.push(P([[61,557],[1086,552]], dash));
graphics.push(P([[35,1105],[457,1105]], dash));
graphics.push(P([[35,1321],[457,1321]], dash));
graphics.push(P([[737,1096],[940,1096]], dash));

// panel letters
graphics.push(T(12, 21, 'A: Y561F', 38, {align:'left'}));
graphics.push(T(12, 498, 'B: Y561A', 38, {align:'left'}));
graphics.push(T(12, 966, 'C', 37, {align:'left'}));
graphics.push(T(467, 966, 'D', 37, {align:'left'}));

// pHi labels over traces
function phRich(col) {
  return {a:{fontSize:20, fontFamily:FONT, fill:col}, s:{fontSize:14, fontFamily:FONT, fill:col, padding:[10,0,0,0]}};
}
[['7.3',230,'#333'],['5.5',593,'#555'],['4.3',947,'#555']].forEach(p => {
  graphics.push({type:'text', x:p[1], y:31, z:100, style:{text:'{a|pH}{s|i}{a| ' + p[0] + '}', rich:phRich(p[2]), align:'center', verticalAlign:'middle'}});
  graphics.push({type:'text', x:p[1], y:509, z:100, style:{text:'{a|pH}{s|i}{a| ' + p[0] + '}', rich:phRich(p[2]), align:'center', verticalAlign:'middle'}});
});
// legend headers pHi
graphics.push({type:'text', x:339, y:194, z:100, style:{text:'{a|pH}{s|i}', rich:phRich('#000'), align:'center', verticalAlign:'middle'}});
graphics.push({type:'text', x:270, y:643, z:100, style:{text:'{a|pH}{s|i}', rich:phRich('#000'), align:'center', verticalAlign:'middle'}});

// scale bars
graphics.push(P([[75,107],[75,125],[127,125]]));
graphics.push(T(72, 114, '2 nA', 17, {align:'right'}));
graphics.push(T(101, 138, '100 ms', 17));
graphics.push(P([[467,98],[470,98],[470,123],[467,123]]));
graphics.push(T(465, 111, '2 nA', 17, {align:'right'}));
graphics.push(P([[845,98],[848,98],[848,132],[845,132]]));
graphics.push(T(843, 116, '2 nA', 17, {align:'right'}));
graphics.push(P([[84,572],[84,590],[132,590]]));
graphics.push(T(80, 583, '3 nA', 17, {align:'right'}));
graphics.push(T(108, 611, '100 ms', 17));
graphics.push(P([[446,570],[449,570],[449,600],[446,600]]));
graphics.push(T(444, 586, '3 nA', 17, {align:'right'}));
graphics.push(P([[819,575],[822,575],[822,610],[819,610]]));
graphics.push(T(817, 593, '2 nA', 17, {align:'right'}));
graphics.push(P([[96,1150],[96,1171],[154,1171]]));
graphics.push(T(92, 1161, '3 nA', 18, {align:'right'}));
graphics.push(T(124, 1184, '50 ms', 18));
graphics.push(P([[91,1346],[91,1382],[150,1382]]));
graphics.push(T(87, 1364, '2 nA', 18, {align:'right'}));
graphics.push(T(120, 1396, '50 ms', 18));
graphics.push(P([[794,1102],[794,1124],[817,1124]], {lineWidth:1.5}));
graphics.push(T(790, 1112, '2 nA', 12, {align:'right'}));
graphics.push(T(806, 1134, '100 ms', 12));

// axis titles
[225, 585, 945].forEach(x => { graphics.push(T(x, 461, 'V (mV)', 20)); graphics.push(T(x, 930, 'V (mV)', 20)); });
graphics.push(T(813, 1420, 'V (mV)', 28));
const richA = {P:{fontSize:24, fontFamily:FONT, fill:'#000'}, s:{fontSize:17, fontFamily:FONT, fill:'#000', padding:[14,0,0,0]}};
const richG = {P:{fontSize:24, fontFamily:FONT, fill:'#000'}, g:{fontSize:18, fontFamily:FONT, fill:'#000', padding:[12,0,0,0]},
  t:{fontSize:13, fontFamily:FONT, fill:'#000', padding:[28,0,0,0]}};
const richD = {P:{fontSize:34, fontFamily:FONT, fill:'#000'}, s:{fontSize:24, fontFamily:FONT, fill:'#000', padding:[20,0,0,0]}};
graphics.push(R(23, 292, '{P|P}{s|A}', richA));
graphics.push(R(385, 302, '{P|P}{g|Glu}{t|gate}', richG));
graphics.push(R(748, 297, '{P|P}{s|C}', richA));
graphics.push(R(23, 762, '{P|P}{s|A}', richA));
graphics.push(R(385, 762, '{P|P}{g|Glu}{t|gate}', richG));
graphics.push(R(748, 760, '{P|P}{s|C}', richA));
graphics.push(R(482, 1183, '{P|P}{s|A}', richD));

// panel C labels
graphics.push(T(240, 980, 'WT', 22, {fontWeight:'bold'}));
graphics.push(T(240, 1217, 'Y561A', 22, {fontWeight:'bold'}));
graphics.push(T(47, 1007, 'Current after (sec)', 17, {align:'left'}));
graphics.push(T(124, 1117, '+100 mV', 18));
graphics.push(T(388, 1080, '+100 mV', 18));
graphics.push(T(348, 1176, '-100 mV', 18));

// panel D labels
graphics.push(T(605, 970, 'WT', 19));
graphics.push(T(861, 970, 'Y561A', 19));
graphics.push(T(877, 1024, '+160 mV', 12));
graphics.push(T(806, 1066, '+100 mV', 12));
graphics.push(T(922, 1066, '+80 mV', 12));
graphics.push(T(881, 1112, '-140 mV', 12));

const chart = echarts.init(document.getElementById('chart'), null, {renderer:'canvas', width:1092, height:1439});
chart.setOption({
  animation:false,
  backgroundColor:'#fff',
  textStyle:{fontFamily:FONT},
  grid:grids, xAxis:xAxes, yAxis:yAxes, series:series, legend:legends,
  graphic:{elements:graphics}
});
</script>
</body>
</html>
